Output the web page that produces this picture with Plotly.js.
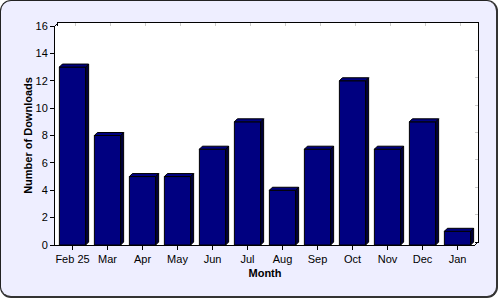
<!DOCTYPE html>
<html><head>
<meta charset="utf-8">
<script src="https://cdn.plot.ly/plotly-3.0.1.min.js"></script>
<style>
html,body{margin:0;padding:0;background:#fff;width:500px;height:300px;overflow:hidden}
#frame{position:absolute;left:0;top:0;width:495px;height:295px;border:1px solid #222;border-right:2px solid #333;border-bottom:2px solid #333;border-radius:11px;background:#EEEEFF;box-sizing:content-box}
#chart{position:absolute;left:0;top:0;width:500px;height:300px}
</style>
</head><body>
<div id="frame"></div>
<div id="chart"></div>
<script>
const months = ["Feb 25","Mar","Apr","May","Jun","Jul","Aug","Sep","Oct","Nov","Dec","Jan"];
const downloads = [13, 8, 5, 5, 7, 9, 4, 7, 12, 7, 9, 1];
const yTicks = [0, 2, 4, 6, 8, 10, 12, 14, 16];

const positions = months.map((m, i) => i);

// layout geometry (pixels)
const L = 55, R = 22, T = 23, B = 55, W = 500, H = 300;
const plotW = W - L - R, plotH = H - T - B;
const depth = 3;
const frontW = plotW - depth, frontH = plotH - depth;
const barW = 0.75;
const pxPerX = frontW / 12;
const pxPerY = frontH / 16;
const dx = depth / pxPerX, dy = depth / pxPerY;

// 3D faces derived from data
const sideX = [], sideY = [], topX = [], topY = [];
positions.forEach((p, i) => {
  const v = downloads[i];
  const l = p - barW / 2, r = p + barW / 2;
  sideX.push(r, r + dx, r + dx, r, r, null);
  sideY.push(0, dy, v + dy, v, 0, null);
  topX.push(l, l + dx, r + dx, r, l, null);
  topY.push(v, v + dy, v + dy, v, v, null);
});

const fontFam = '"Liberation Sans", Arial, sans-serif';

const traces = [
  {type: 'scatter', x: [], y: [], xaxis: 'x', yaxis: 'y', showlegend: false, hoverinfo: 'skip'},
  {type: 'bar', x: positions, y: downloads, width: barW, xaxis: 'x2', yaxis: 'y2',
   marker: {color: '#000080', line: {color: '#000000', width: 1}}, showlegend: false},
  {type: 'scatter', mode: 'lines', x: sideX, y: sideY, fill: 'toself', fillcolor: '#00003c',
   line: {color: '#000000', width: 1}, xaxis: 'x2', yaxis: 'y2', showlegend: false, hoverinfo: 'skip'},
  {type: 'scatter', mode: 'lines', x: topX, y: topY, fill: 'toself', fillcolor: '#000080',
   line: {color: '#000000', width: 1}, xaxis: 'x2', yaxis: 'y2', showlegend: false, hoverinfo: 'skip'}
];

const layout = {
  width: W, height: H,
  margin: {l: L, r: R, t: T, b: B, pad: 0},
  paper_bgcolor: 'rgba(0,0,0,0)',
  plot_bgcolor: '#ffffff',
  font: {family: fontFam, size: 11, color: '#000'},
  showlegend: false,
  // back wall (grid)
  xaxis: {domain: [depth / plotW, 1], anchor: 'y', range: [-0.5, 11.5], tickmode: 'linear', tick0: 0, dtick: 1,
          showgrid: true, gridcolor: '#cccccc', gridwidth: 1, showticklabels: false, ticks: '',
          showline: true, mirror: true, linecolor: '#000', linewidth: 1, zeroline: false, fixedrange: true},
  yaxis: {domain: [depth / plotH, 1], anchor: 'x', range: [0, 16], tickmode: 'array', tickvals: yTicks,
          showgrid: true, gridcolor: '#cccccc', gridwidth: 1, showticklabels: false, ticks: '',
          showline: true, mirror: true, linecolor: '#000', linewidth: 1, zeroline: false, fixedrange: true},
  // front axes (bars)
  xaxis2: {domain: [0, frontW / plotW], anchor: 'y2', range: [-0.5, 11.5], tickmode: 'array',
           tickvals: positions, ticktext: months, ticks: 'outside', ticklen: 4, tickcolor: '#000',
           showgrid: false, zeroline: false, showline: true, linecolor: '#000', linewidth: 1,
           tickfont: {family: fontFam, size: 11, color: '#000'},
           title: {text: 'Month', font: {family: fontFam, size: 11, color: '#000', weight: 'bold'}, standoff: 5},
           fixedrange: true},
  yaxis2: {domain: [0, frontH / plotH], anchor: 'x2', range: [0, 16], tickmode: 'array', tickvals: yTicks,
           ticks: 'outside', ticklen: 4, tickcolor: '#000', showgrid: false, zeroline: false,
           showline: true, linecolor: '#000', linewidth: 1,
           tickfont: {family: fontFam, size: 11, color: '#000'},
           title: {text: 'Number of Downloads', font: {family: fontFam, size: 11, color: '#000', weight: 'bold'}, standoff: 0},
           fixedrange: true},
  shapes: [
    {type: 'line', xref: 'paper', yref: 'paper', x0: 0, y0: frontH / plotH, x1: depth / plotW, y1: 1,
     line: {color: '#000', width: 1}},
    {type: 'line', xref: 'paper', yref: 'paper', x0: frontW / plotW, y0: 0, x1: 1, y1: depth / plotH,
     line: {color: '#000', width: 1}}
  ]
};

Plotly.newPlot('chart', traces, layout, {staticPlot: true, displayModeBar: false});
</script>
</body></html>
